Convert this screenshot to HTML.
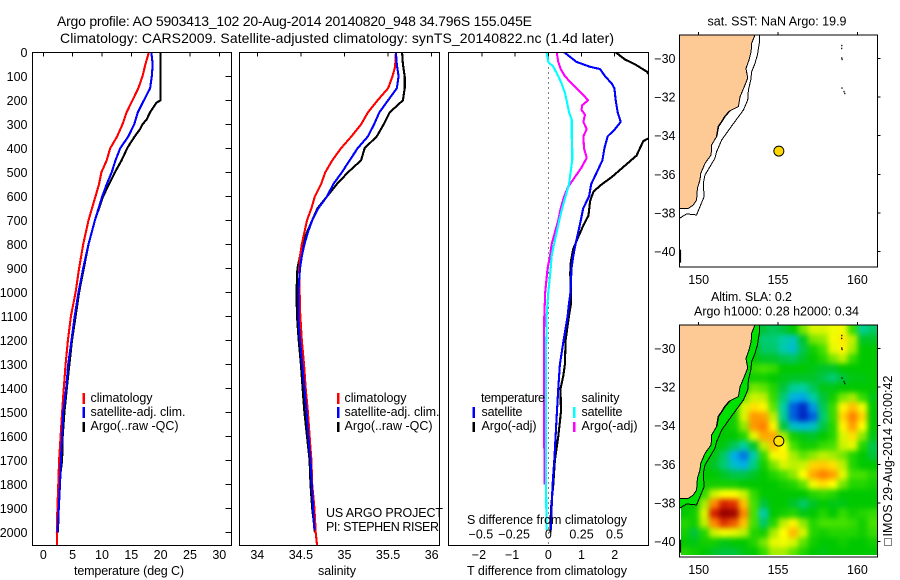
<!DOCTYPE html>
<html lang="en">
<head>
<meta charset="utf-8">
<title>Argo profile</title>
<style>
html,body{margin:0;padding:0;background:#fff;}
svg{display:block;font-family:"Liberation Sans",sans-serif;font-size:12.5px;fill:#000;}
</style>
</head>
<body>
<svg id="chart" xmlns="http://www.w3.org/2000/svg" width="900" height="580" viewBox="0 0 900 580">
<defs>
<clipPath id="clip-temp"><rect x="32.5" y="52.3" width="199" height="493"/></clipPath>
<clipPath id="clip-sal"><rect x="239.5" y="52.3" width="200" height="493"/></clipPath>
<clipPath id="clip-diff"><rect x="448.5" y="52.3" width="200" height="493"/></clipPath>
<clipPath id="clip-map1"><rect x="679.5" y="35" width="198" height="232"/></clipPath>
<clipPath id="clip-map2"><rect x="679.5" y="325" width="198" height="232"/></clipPath>
<clipPath id="clip-heat"><rect x="681" y="325" width="196.5" height="230"/></clipPath>
<filter id="heat-blur" x="-10%" y="-10%" width="120%" height="120%" color-interpolation-filters="sRGB"><feGaussianBlur stdDeviation="2.7"/></filter>
</defs>

<g id="g-temp"></g>
<g id="g-sal"></g>
<g id="g-diff"></g>
<g id="g-map1"></g>
<g id="g-map2"></g>

<text x="57" y="26" font-size="14" textLength="475">Argo profile: AO 5903413_102 20-Aug-2014 20140820_948 34.796S 155.045E</text>
<text x="60" y="43" font-size="14" textLength="554">Climatology: CARS2009. Satellite-adjusted climatology: synTS_20140822.nc (1.4d later)</text>

<text x="74" y="575" textLength="110">temperature (deg C)</text>
<text x="318" y="575" textLength="38">salinity</text>
<text x="467" y="575" textLength="160">T difference from climatology</text>
<text x="467" y="524" textLength="160">S difference from climatology</text>

<g>
<rect x="82.5" y="393" width="2.5" height="11" fill="#f00"/>
<rect x="82.5" y="407" width="2.5" height="11" fill="#00f"/>
<rect x="82.5" y="422" width="2.5" height="10" fill="#000"/>
<text x="90.5" y="402" textLength="62">climatology</text>
<text x="90.5" y="416" textLength="95">satellite-adj. clim.</text>
<text x="90.5" y="430" textLength="88">Argo(..raw -QC)</text>
</g>
<g>
<rect x="337" y="393" width="2.5" height="11" fill="#f00"/>
<rect x="337" y="407" width="2.5" height="11" fill="#00f"/>
<rect x="337" y="422" width="2.5" height="10" fill="#000"/>
<text x="344.5" y="402" textLength="62">climatology</text>
<text x="344.5" y="416" textLength="95">satellite-adj. clim.</text>
<text x="344.5" y="430" textLength="88">Argo(..raw -QC)</text>
<text x="326" y="517" textLength="117">US ARGO PROJECT</text>
<text x="326" y="531" textLength="113">PI: STEPHEN RISER</text>
</g>
<g>
<text x="481" y="402" textLength="64">temperature</text>
<text x="581.5" y="402" textLength="38">salinity</text>
<rect x="472.5" y="407" width="2.5" height="11" fill="#00f"/>
<rect x="472.5" y="422" width="2.5" height="10" fill="#000"/>
<rect x="573" y="407" width="2.5" height="11" fill="#0ff"/>
<rect x="573" y="422" width="2.5" height="10" fill="#f0f"/>
<text x="481.5" y="416" textLength="41">satellite</text>
<text x="481.5" y="430" textLength="55">Argo(-adj)</text>
<text x="581.5" y="416" textLength="41">satellite</text>
<text x="581.5" y="430" textLength="56">Argo(-adj)</text>
</g>

<text x="707.5" y="25.5" textLength="139">sat. SST: NaN Argo: 19.9</text>
<text x="711" y="301" textLength="81">Altim. SLA: 0.2</text>
<text x="694" y="315.5" textLength="165">Argo h1000: 0.28 h2000: 0.34</text>
<rect x="884.5" y="538.5" width="7" height="7" fill="none" stroke="#000" stroke-width="1" stroke-dasharray="1 1"/>
<text transform="translate(892 536.5) rotate(-90)" textLength="161">IMOS 29-Aug-2014 20:00:42</text>
</svg>

<script>
// ---- axis ticks ----
const depthTicks = [0,100,200,300,400,500,600,700,800,900,1000,1100,1200,1300,1400,1500,1600,1700,1800,1900,2000];
const tempTicks = [0,5,10,15,20,25,30];
const salTicks = [34,34.5,35,35.5,36];
const tDiffTicks = [-2,-1,0,1,2];
const sDiffTicks = [-0.5,-0.25,0,0.25,0.5];
const lonTicks = [150,155,160];
const latTicks = [-30,-32,-34,-36,-38,-40];

// ---- temperature profiles (deg C) ----
const tempClimDepth = [0,50,100,150,200,250,300,350,400,450,500,550,600,700,800,900,1000,1100,1200,1300,1400,1500,1600,1700,1800,1900,2000,2053];
const tempClim = [18.0,17.4,16.9,16.2,15.2,14.2,13.5,12.6,11.4,10.8,9.9,9.5,8.9,7.7,6.8,6.1,5.5,4.7,4.2,3.8,3.5,3.2,2.95,2.7,2.55,2.4,2.3,2.3];
const tempSatDepth = [0,50,100,150,200,250,300,350,400,450,500,550,600,700,800,900,1000,1100,1200,1300,1400,1500,1600,1700,1800,1900,2000];
const tempSat = [18.4,18.65,18.5,18.2,17.15,16.1,15.5,14.5,13.1,12.3,11.65,10.8,10.05,8.8,7.7,6.8,6.0,5.35,4.8,4.25,3.9,3.4,3.2,3.0,2.85,2.65,2.4];
const tempArgoDepth = [0,200,210,250,280,300,320,350,380,400,450,500,550,600,700,800,900,1000,1100,1200,1300,1400,1500,1600,1700,1800,1900,2000];
const tempArgo = [20,20,19.3,18.2,17.6,16.9,16.5,15.6,14.8,14.3,13.35,12.2,11.2,10.2,8.8,7.7,6.9,6.1,5.5,4.9,4.45,4.0,3.6,3.3,3.2,2.7,2.6,2.5];

// ---- salinity profiles ----
const salClimDepth = [0,60,100,150,200,250,300,350,400,450,500,550,600,650,700,750,800,850,900,1075,1200,1300,1400,1500,1600,1700,1800,1900,2000,2053];
const salClim = [35.59,35.58,35.55,35.5,35.38,35.27,35.19,35.08,34.96,34.86,34.78,34.73,34.66,34.62,34.57,34.54,34.51,34.49,34.48,34.49,34.51,34.535,34.555,34.58,34.6,34.62,34.63,34.655,34.67,34.685];
const salSatDepth = [0,50,100,150,200,250,300,350,400,450,500,550,600,650,700,750,800,850,900,1000,1100,1200,1300,1400,1500,1600,1700,1800,1900,1990];
const salSat = [35.59,35.6,35.62,35.6,35.5,35.4,35.34,35.27,35.15,35.06,34.97,34.87,34.8,34.7,34.63,34.58,34.54,34.51,34.49,34.47,34.47,34.49,34.515,34.54,34.565,34.585,34.61,34.625,34.64,34.655];
const salArgoDepth = [0,50,100,150,200,210,250,300,350,400,450,500,550,600,650,700,750,800,850,900,1000,1100,1200,1300,1400,1500,1600,1700,1800,1900,2000];
const salArgo = [35.66,35.67,35.69,35.69,35.67,35.64,35.52,35.45,35.37,35.23,35.19,35.04,34.91,34.8,34.69,34.63,34.57,34.52,34.49,34.46,34.45,34.455,34.475,34.5,34.52,34.54,34.57,34.6,34.61,34.63,34.66];

// ---- differences from climatology ----
const dTSatDepth = [0,40,60,70,100,130,150,200,250,290,320,350,400,450,500,550,600,650,700,750,800,850,900,1000,1050,1100,1200,1300,1400,1500,1600,1700,1800,1900,1990];
const dTSat = [0.48,0.85,1.25,1.56,1.71,1.91,1.99,2.03,2.09,2.18,2.01,1.79,1.69,1.63,1.46,1.29,1.23,1.05,0.98,0.9,0.82,0.75,0.7,0.67,0.62,0.58,0.46,0.35,0.3,0.26,0.22,0.18,0.13,0.1,0.08];
const dTArgoDepth = [0,30,50,80,150,300,360,370,400,430,460,490,520,550,580,620,680,720,770,820,870,920,1000,1050,1100,1200,1300,1350,1400,1500,1600,1700,1800,1900,2000];
const dTArgo = [2.03,2.31,2.61,2.96,3.4,3.5,3.0,2.86,2.76,2.66,2.41,2.16,1.91,1.61,1.36,1.26,1.21,1.06,0.9,0.75,0.68,0.66,0.68,0.68,0.62,0.52,0.5,0.45,0.37,0.38,0.3,0.2,0.15,0.08,0.06];
const dSSatDepth = [0,40,60,100,130,170,200,250,280,350,400,450,500,550,600,650,700,750,800,850,900,1000,1100,1300,1500,1700,1900,1990];
const dSSat = [-0.0125,0,0.038,0.075,0.1,0.126,0.138,0.156,0.176,0.176,0.18,0.18,0.168,0.156,0.13,0.105,0.083,0.063,0.043,0.025,0.018,0,-0.0125,-0.018,-0.018,-0.018,-0.015,-0.0125];
const dSArgoDepth = [0,40,70,100,130,170,200,220,240,260,290,320,350,400,440,480,520,560,600,650,700,750,800,850,900,1000,1100,1300,1500,1650,1800];
const dSArgo = [0.063,0.075,0.093,0.126,0.176,0.25,0.3,0.256,0.25,0.276,0.264,0.289,0.264,0.269,0.289,0.25,0.2,0.15,0.12,0.093,0.075,0.05,0.025,0.0125,-0.005,-0.023,-0.03,-0.033,-0.033,-0.03,-0.028];

// ---- map geography ----
const coastLon = [153.55,153.34,153.30,153.17,152.98,153.09,152.92,152.61,152.50,151.97,151.66,151.45,151.24,151.13,150.82,150.78,150.40,150.13,150.08,149.92,149.87,149.66,149.35,148.78];
const coastLat = [-28.79,-29.22,-29.66,-30.09,-30.52,-31.03,-31.38,-31.98,-32.50,-32.71,-33.0,-33.28,-33.53,-34.05,-34.48,-35.0,-35.43,-35.95,-36.29,-36.72,-37.33,-37.59,-37.76,-37.76];
const isoLon = [153.82,153.82,153.70,153.55,153.34,153.28,153.13,153.09,152.82,152.44,151.97,151.45,151.13,151.03,150.40,150.29,150.34,150.08,149.87,149.24,148.78];
const isoLat = [-28.79,-29.22,-29.83,-30.26,-30.69,-31.12,-31.64,-32.16,-32.67,-33.10,-33.62,-34.22,-34.83,-35.17,-36.03,-36.47,-37.16,-37.67,-38.10,-38.05,-38.28];
const islandLon = [158.97,158.98,158.98,159.0,158.99,159.12,159.17];
const islandLat = [-29.45,-29.3,-29.95,-30.02,-31.5,-31.68,-31.78];
const argoLon = [155.05];
const argoLat = [-34.8];

// ---- sea level anomaly grid (cm), rows north to south, columns west to east ----
const slaGrid = [
[0,0,0,0,0,0,0,0,-3,-5,-3,0,6,11,11,13,13,3,-9,-6],
[0,0,0,0,0,0,0,0,-7,-7,-11,-14,-2,6,7,13,16,9,-2,-2],
[0,0,0,0,0,0,0,0,-6,-6,-12,-16,-4,1,4,12,15,8,0,0],
[0,0,0,0,0,0,0,0,-2,-2,-4,-5,-2,0,2,6,9,3,0,0],
[0,0,0,0,0,0,0,3,4,3,0,0,0,-1,-2,-2,0,0,0,0],
[0,0,0,0,0,0,0,1,1,0,-1,-2,-2,-2,-4,-7,-3,-1,-1,0],
[0,0,0,0,0,0,1,6,5,2,-3,-9,-10,-5,-1,-1,0,0,0,0],
[0,0,0,0,0,0,6,10,9,3,-7,-19,-21,-11,-3,1,6,8,3,-1],
[0,0,0,0,0,1,11,17,15,5,-10,-30,-38,-23,-5,3,15,20,13,0],
[0,0,0,0,0,1,11,25,24,9,-9,-30,-39,-30,-7,3,18,28,18,0],
[0,0,0,0,0,1,7,25,28,15,-3,-15,-18,-15,-4,2,15,24,14,0],
[0,0,0,0,0,0,2,12,23,23,8,1,-1,-2,0,2,11,17,7,-1],
[0,0,0,0,-1,-5,-10,-2,9,20,14,4,1,1,3,4,10,12,2,-4],
[0,0,0,-1,-6,-20,-27,-12,3,13,15,8,5,7,9,8,6,2,0,-3],
[0,0,0,-2,-7,-16,-20,-8,1,6,11,9,10,18,19,17,9,2,0,0],
[0,0,0,0,-2,-4,-4,-2,0,2,4,7,14,23,28,24,12,4,4,2],
[0,0,1,1,1,1,0,0,0,0,1,2,5,13,17,14,6,2,2,1],
[0,0,3,10,14,14,10,3,0,0,0,0,0,2,3,2,0,0,0,0],
[0,0,8,27,38,36,20,4,-3,0,0,-2,-6,-2,0,-1,-1,0,0,0],
[0,1,11,38,55,48,27,4,-12,0,1,2,-1,0,2,0,3,1,2,3],
[2,1,9,27,36,32,20,4,-6,2,9,15,7,2,4,4,4,3,1,4],
[1,-3,2,10,13,12,9,2,1,8,14,21,11,2,1,2,2,2,1,3],
[0,-1,1,1,-1,0,0,2,6,12,13,11,5,1,0,0,1,0,0,1],
[2,1,0,-2,-3,-3,-1,0,3,8,8,5,2,0,-1,0,0,0,0,0]
];

const NS = 'http://www.w3.org/2000/svg';

// ---- axis functions ----
const depthY = d => 52.3 + d * 0.24;
const tempX = t => 43.3 + t * 5.867;
const salX = s => 257.3 + (s - 34) * 87.2;
const dTX = t => 548.3 + t * 33.2;
const dSX = s => dTX(s * 4);
const lonX = l => 698.7 + (l - 150) * 15.87;
const map1Y = l => 58.3 + (-30 - l) * 19.33;
const map2Y = l => 348.3 + (-30 - l) * 19.33;

function frame(parent, x, y, w, h, name) {
  const el = document.createElementNS(NS, 'rect');
  
  
  el.setAttribute('x', x);
  el.setAttribute('y', y);
  el.setAttribute('width', w);
  el.setAttribute('height', h);
  el.setAttribute('fill', 'none');
  el.setAttribute('stroke', '#000');
  el.setAttribute('stroke-width', '1');
  el.setAttribute('shape-rendering', 'crispEdges');
  parent.appendChild(el);
}
function tick(parent, x1, y1, x2, y2) {
  const el = document.createElementNS(NS, 'line');
  
  
  el.setAttribute('x1', x1);
  el.setAttribute('y1', y1);
  el.setAttribute('x2', x2);
  el.setAttribute('y2', y2);
  el.setAttribute('stroke', '#000');
  el.setAttribute('stroke-width', '1');
  el.setAttribute('shape-rendering', 'crispEdges');
  parent.appendChild(el);
}
function label(parent, x, y, str, anchor) {
  const el = document.createElementNS(NS, 'text');
  
  
  el.setAttribute('x', x);
  el.setAttribute('y', y);
  el.setAttribute('text-anchor', anchor);
  el.textContent = str;
  parent.appendChild(el);
}
function series(parent, xs, ys, xf, yf, color, width, clip, name) {
  const el = document.createElementNS(NS, 'polyline');
  
  
  el.setAttribute('points', xs.map((v, i) => xf(v).toFixed(1) + ',' + yf(ys[i]).toFixed(1)).join(' '));
  el.setAttribute('fill', 'none');
  el.setAttribute('stroke', color);
  el.setAttribute('stroke-width', width);
  el.setAttribute('stroke-linejoin', 'round');
  el.setAttribute('shape-rendering', 'crispEdges');
  if (clip) el.setAttribute('clip-path', 'url(#' + clip + ')');
  parent.appendChild(el);
}
const fmt = v => String(v).replace('-', '\u2212');

// ---- temperature panel ----
const gT = document.getElementById('g-temp');
series(gT, tempArgo, tempArgoDepth, tempX, depthY, '#000', 2.1, 'clip-temp', 'temperature-argo-line');
series(gT, tempClim, tempClimDepth, tempX, depthY, '#f00', 2.1, 'clip-temp', 'temperature-climatology-line');
series(gT, tempSat, tempSatDepth, tempX, depthY, '#00f', 2.1, 'clip-temp', 'temperature-satellite-line');
frame(gT, 32.5, 52.5, 199, 493, 'temperature-plot-frame');
depthTicks.forEach(d => {
  tick(gT, 231.5, depthY(d), 225.5, depthY(d));
  label(gT, 27.5, depthY(d) + 4.5, fmt(d), 'end');
});
tempTicks.forEach(t => {
  tick(gT, tempX(t), 52.5, tempX(t), 56.5);
  label(gT, tempX(t), 559, fmt(t), 'middle');
});

// ---- salinity panel ----
const gS = document.getElementById('g-sal');
series(gS, salArgo, salArgoDepth, salX, depthY, '#000', 2.1, 'clip-sal', 'salinity-argo-line');
series(gS, salClim, salClimDepth, salX, depthY, '#f00', 2.1, 'clip-sal', 'salinity-climatology-line');
series(gS, salSat, salSatDepth, salX, depthY, '#00f', 2.1, 'clip-sal', 'salinity-satellite-line');
frame(gS, 239.5, 52.5, 200, 493, 'salinity-plot-frame');
salTicks.forEach(s => {
  tick(gS, salX(s), 52.5, salX(s), 56.5);
  label(gS, salX(s), 559, fmt(s), 'middle');
});

// ---- difference panel ----
const gD = document.getElementById('g-diff');
const zero = document.createElementNS(NS, 'line');


zero.setAttribute('x1', 548.5);
zero.setAttribute('x2', 548.5);
zero.setAttribute('y1', 52.5);
zero.setAttribute('y2', 545);
zero.setAttribute('stroke', '#000');
zero.setAttribute('stroke-width', '1');
zero.setAttribute('stroke-dasharray', '1 4');
zero.setAttribute('shape-rendering', 'crispEdges');
gD.appendChild(zero);
series(gD, dTArgo, dTArgoDepth, dTX, depthY, '#000', 2.1, 'clip-diff', 't-difference-argo-line');
series(gD, dTSat, dTSatDepth, dTX, depthY, '#00f', 2.1, 'clip-diff', 't-difference-satellite-line');
series(gD, dSArgo, dSArgoDepth, dSX, depthY, '#f0f', 2.1, 'clip-diff', 's-difference-argo-line');
series(gD, dSSat, dSSatDepth, dSX, depthY, '#0ff', 2.1, 'clip-diff', 's-difference-satellite-line');
frame(gD, 448.5, 52.5, 200, 493, 'difference-plot-frame');
tDiffTicks.forEach(t => {
  tick(gD, dTX(t), 52.5, dTX(t), 56.5);
  label(gD, dTX(t) - (t < 0 ? 3 : 0), 559, fmt(t), 'middle');
});
sDiffTicks.forEach(s => {
  label(gD, dSX(s) - (s < 0 ? 1 : 0), 538.5, fmt(s), 'middle');
});

// ---- colour scale for sea level anomaly ----
function slaColor(v) {
  const stops = [[-40,0,32,192],[-30,0,96,224],[-20,0,176,232],[-10,0,208,160],[-3,0,196,60],[0,0,200,0],[4,70,225,0],[9,190,240,0],[14,255,255,0],[20,255,192,0],[28,255,128,0],[38,216,32,0],[50,150,0,0]];
  if (v <= stops[0][0]) return 'rgb(' + stops[0].slice(1).join(',') + ')';
  for (let i = 1; i < stops.length; i++) {
    if (v <= stops[i][0]) {
      const a = stops[i - 1], b = stops[i], f = (v - a[0]) / (b[0] - a[0]);
      return 'rgb(' + [1, 2, 3].map(k => Math.round(a[k] + (b[k] - a[k]) * f)).join(',') + ')';
    }
  }
  return 'rgb(150,0,0)';
}

// ---- maps ----
function land(parent, yf, clip) {
  const el = document.createElementNS(NS, 'polygon');
  
  
  const pts = coastLon.map((v, i) => lonX(v).toFixed(1) + ',' + yf(coastLat[i]).toFixed(1));
  pts.push(lonX(148.78).toFixed(1) + ',' + yf(-28.79).toFixed(1));
  el.setAttribute('points', pts.join(' '));
  el.setAttribute('fill', '#fdca96');
  el.setAttribute('clip-path', 'url(#' + clip + ')');
  parent.appendChild(el);
}
function shelf(parent, yf, clip) {
  const el = document.createElementNS(NS, 'polygon');
  
  
  const a = coastLon.map((v, i) => lonX(v).toFixed(1) + ',' + yf(coastLat[i]).toFixed(1));
  const b = isoLon.map((v, i) => lonX(v).toFixed(1) + ',' + yf(isoLat[i]).toFixed(1)).reverse();
  el.setAttribute('points', a.concat(b).join(' '));
  el.setAttribute('fill', '#00e000');
  el.setAttribute('clip-path', 'url(#' + clip + ')');
  parent.appendChild(el);
}
function mapOverlay(parent, yf, clip, top, markerFill, name) {
  series(parent, coastLon, coastLat, lonX, yf, '#000', 1, clip, 'coastline');
  series(parent, coastLon.slice(9, 14), coastLat.slice(9, 14), lonX, yf, '#000', 1.5, clip, 'coastline-detail');
  series(parent, isoLon, isoLat, lonX, yf, '#000', 1, clip, 'isobath');
  islandLon.forEach((v, i) => {
    const el = document.createElementNS(NS, 'rect');
    
    
    el.setAttribute('x', lonX(v).toFixed(1));
    el.setAttribute('y', yf(islandLat[i]).toFixed(1));
    el.setAttribute('width', 1.2);
    el.setAttribute('height', 1.5);
    el.setAttribute('fill', '#000');
    parent.appendChild(el);
  });
  const bar = document.createElementNS(NS, 'rect');
  
  
  bar.setAttribute('x', 679.5);
  bar.setAttribute('y', yf(-39.9));
  bar.setAttribute('width', 1.6);
  bar.setAttribute('height', 13);
  bar.setAttribute('fill', '#000');
  parent.appendChild(bar);
  const dot = document.createElementNS(NS, 'circle');
  
  
  dot.setAttribute('cx', lonX(argoLon[0]));
  dot.setAttribute('cy', yf(argoLat[0]));
  dot.setAttribute('r', 5);
  dot.setAttribute('fill', markerFill);
  dot.setAttribute('stroke', '#000');
  dot.setAttribute('stroke-width', '1');
  parent.appendChild(dot);
  frame(parent, 679.5, top, 198, 232, name);
  lonTicks.forEach(l => {
    tick(parent, lonX(l), top, lonX(l), top - 3);
    label(parent, lonX(l), top + 249, fmt(l), 'middle');
  });
  latTicks.forEach(l => {
    tick(parent, 877.5, yf(l), 880.5, yf(l));
    label(parent, 675.5, yf(l) + 4.5, fmt(l), 'end');
  });
}

const gM1 = document.getElementById('g-map1');
land(gM1, map1Y, 'clip-map1');
mapOverlay(gM1, map1Y, 'clip-map1', 35, '#ffd700', 'sst-map-frame');

const gM2 = document.getElementById('g-map2');
const heatClip = document.createElementNS(NS, 'g');


heatClip.setAttribute('clip-path', 'url(#clip-heat)');
const heatBlur = document.createElementNS(NS, 'g');


heatBlur.setAttribute('filter', 'url(#heat-blur)');
const nRows = slaGrid.length, nCols = slaGrid[0].length;
slaGrid.forEach((row, r) => {
  row.forEach((v, c) => {
    const x0 = lonX(148.78 + c * 0.6238), x1 = lonX(148.78 + (c + 1) * 0.6238);
    const y0 = map2Y(-28.79 - r * 0.5), y1 = map2Y(-28.79 - (r + 1) * 0.5);
    const padL = c === 0 ? 20 : 0, padR = c === nCols - 1 ? 20 : 0;
    const padT = r === 0 ? 20 : 0, padB = r === nRows - 1 ? 20 : 0;
    const cell = document.createElementNS(NS, 'rect');
    
    
    cell.setAttribute('x', (x0 - padL).toFixed(2));
    cell.setAttribute('y', (y0 - padT).toFixed(2));
    cell.setAttribute('width', (x1 - x0 + padL + padR + 0.5).toFixed(2));
    cell.setAttribute('height', (y1 - y0 + padT + padB + 0.5).toFixed(2));
    cell.setAttribute('fill', slaColor(v));
    heatBlur.appendChild(cell);
  });
});
heatClip.appendChild(heatBlur);
gM2.appendChild(heatClip);
shelf(gM2, map2Y, 'clip-map2');
land(gM2, map2Y, 'clip-map2');
mapOverlay(gM2, map2Y, 'clip-map2', 325, slaColor(17), 'sla-map-frame');
</script>
</body>
</html>
